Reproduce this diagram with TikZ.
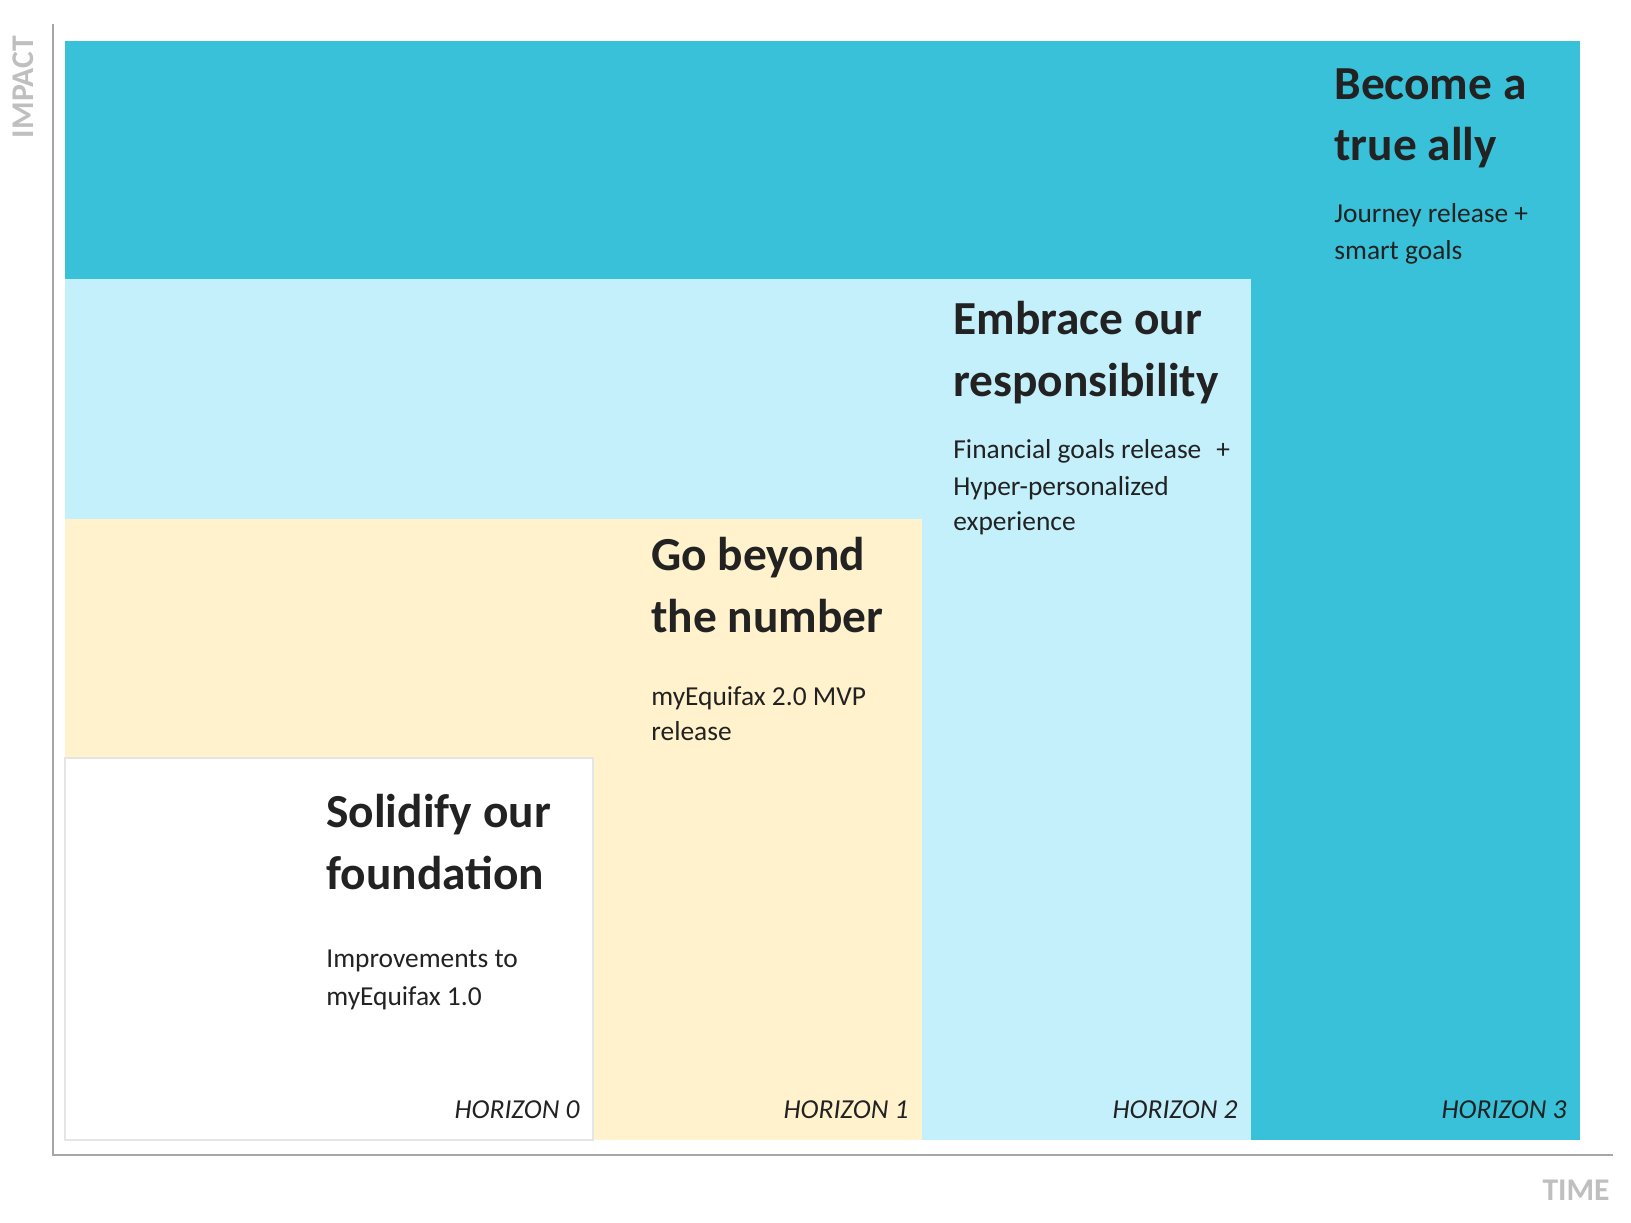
\documentclass[tikz,border=0pt]{standalone}
\usepackage{fontspec}
\setmainfont{Carlito}
\definecolor{tealc}{HTML}{38C1D8}
\definecolor{lblue}{HTML}{C4F0FB}
\definecolor{lyell}{HTML}{FFF2CC}
\definecolor{txt}{HTML}{222222}
\definecolor{axgray}{HTML}{A6A6A6}
\definecolor{lblgray}{HTML}{BFBFBF}
\tikzset{
  ttl/.style={anchor=base west, inner sep=0pt, text=txt, font=\fontsize{23.7}{28}\selectfont\bfseries},
  body/.style={anchor=base west, inner sep=0pt, text=txt, font=\fontsize{13.7}{16}\selectfont},
  hor/.style={anchor=base east, inner sep=0pt, text=txt, font=\fontsize{13.7}{16}\selectfont\itshape},
  axlbl/.style={inner sep=0pt, text=lblgray, font=\fontsize{15.8}{18}\selectfont\bfseries},
  axline/.style={draw=axgray, line width=1pt}
}
\begin{document}
\begin{tikzpicture}[x=0.5pt, y=-0.5pt]
\useasboundingbox (0,0) rectangle (1631,1222);
% panels
\fill[tealc] (65,41) rectangle (1580,1140);
\fill[lblue] (65,279) rectangle (1251,1140);
\fill[lyell] (65,519) rectangle (922,1140);
\filldraw[fill=white, draw=black!10, line width=0.6pt] (65,758) rectangle (593,1140);
% axes
\coordinate (axtop) at (53,24);
\coordinate (axorig) at (53,1155);
\coordinate (axright) at (1613,1155);
\draw[axline] (axtop) -- (axorig) -- (axright);
\node[axlbl, rotate=90] (impact) at (23.5,87) {IMPACT};
\node[axlbl, anchor=base east] (time) at (1610,1200) {TIME};
% horizon 3
\node[ttl] (t3a) at (1334,99) {Become a};
\node[ttl] (t3b) at (1334,160) {true ally};
\node[body] (b3a) at (1334,222) {Journey release +};
\node[body] (b3b) at (1334,259) {smart goals};
% horizon 2
\node[ttl] (t2a) at (953,334) {Embrace our};
\node[ttl] (t2b) at (953,396) {responsibility};
\node[body] (b2a) at (953,458) {Financial goals release\hspace{0.55em}+};
\node[body] (b2b) at (953,495) {Hyper-personalized};
\node[body] (b2c) at (953,530) {experience};
% horizon 1
\node[ttl] (t1a) at (651,570) {Go beyond};
\node[ttl] (t1b) at (651,632) {the number};
\node[body] (b1a) at (651,705) {myEquifax 2.0 MVP};
\node[body] (b1b) at (651,740) {release};
% horizon 0
\node[ttl] (t0a) at (326,827) {Solidify our};
\node[ttl] (t0b) at (326,889) {foundation};
\node[body] (b0a) at (326,967) {Improvements to};
\node[body] (b0b) at (326,1005) {myEquifax 1.0};
% horizon labels
\node[hor] (h0) at (580,1118) {HORIZON 0};
\node[hor] (h1) at (909,1118) {HORIZON 1};
\node[hor] (h2) at (1238,1118) {HORIZON 2};
\node[hor] (h3) at (1567,1118) {HORIZON 3};
\end{tikzpicture}
\end{document}
